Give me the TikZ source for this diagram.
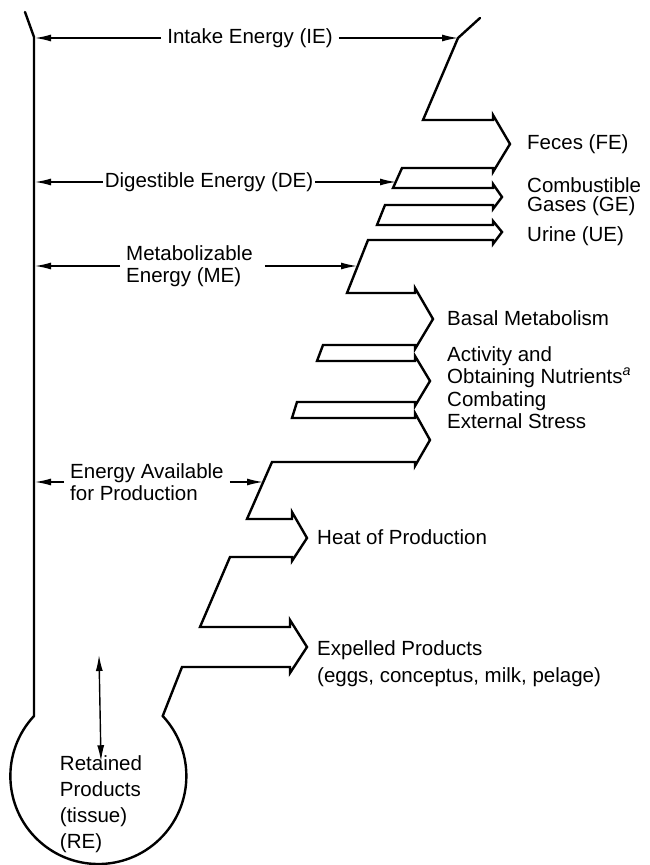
\documentclass[tikz,border=0pt]{standalone}
\usepackage{fontspec}
\setmainfont{Liberation Sans}
\usepackage{tikz}
\usetikzlibrary{arrows.meta}
\tikzset{
  wall/.style={line width=2.4pt, line join=miter, line cap=round},
  lbl/.style={-{Latex[length=16pt,width=7pt]}, line width=1.4pt},
  dbl/.style={{Latex[length=16pt,width=7pt]}-{Latex[length=16pt,width=7pt]}, line width=1.4pt},
  txt/.style={inner sep=6pt, align=left, font=\fontsize{20.5}{22}\selectfont},
  outl/.style={txt, inner sep=0pt, anchor=west}
}

\begin{document}
\begin{tikzpicture}[x=1pt,y=-1pt]
  \useasboundingbox (0,0) rectangle (650,865);
  \draw[wall] (25,12) -- (34,37) -- (34,716)
    arc[start angle=223, end angle=-43, radius=88]
    -- (182,667) -- (290,667) -- (290,673) -- (307,647) -- (290,620) -- (290,627)
    -- (200,627) -- (230,557) -- (292,557) -- (292,561) -- (307,538) -- (292,512) -- (292,519)
    -- (247,519) -- (272,462) -- (415,462) -- (415,466) -- (430,440) -- (415,413) -- (415,418)
    -- (292,418) -- (297,402) -- (415,402) -- (415,406) -- (430,381) -- (415,356) -- (415,361)
    -- (317,361) -- (323,345) -- (415,345) -- (415,349) -- (433,319) -- (415,288) -- (415,293)
    -- (347,293) -- (368,240) -- (493,240) -- (493,244) -- (502,232) -- (493,221) -- (493,225)
    -- (377,225) -- (385,205) -- (493,205) -- (493,209) -- (502,197) -- (493,184) -- (493,188)
    -- (393,188) -- (402,168) -- (493,168) -- (493,172) -- (510,144) -- (493,115) -- (493,120)
    -- (423,120) -- (458,38) -- (480,18);

  \coordinate (ieL) at (35,38);
  \coordinate (ieR) at (458,38);
  \coordinate (deL) at (35,182);
  \coordinate (deR) at (396,182);
  \coordinate (meL) at (35,266);
  \coordinate (meR) at (357,266);
  \coordinate (eapL) at (35,482);
  \coordinate (eapR) at (263,482);
  \coordinate (reTop) at (99,655);

  \node[txt] (ie) at (250,38) {Intake Energy (IE)};
  \node[txt, inner sep=2pt] (de) at (209,182) {Digestible Energy (DE)};
  \node[txt, anchor=west] (me) at (120,266) {Metabolizable\\Energy (ME)};
  \node[txt, anchor=west] (eap) at (64,482) {Energy Available\\for Production};
  \node[txt, inner sep=0pt, font=\fontsize{20.5}{26}\selectfont] (re) at (101,804)
    {Retained\\Products\\(tissue)\\(RE)};

  \draw[lbl] (ie) -- (ieL);
  \draw[lbl] (ie) -- (ieR);
  \draw[lbl] (de) -- (deL);
  \draw[lbl] (de) -- (deR);
  \draw[lbl] (me.west) -- (meL);
  \draw[lbl] ([xshift=6pt]me.east |- meR) -- (meR);
  \draw[lbl] (eap.west) -- (eapL);
  \draw[lbl] (eap.east |- eapR) -- (eapR);
  \draw[dbl] ([yshift=-6pt]re.north) -- (reTop);

  \node[outl] (fe) at (527,144) {Feces (FE)};
  \node[outl, font=\fontsize{20.5}{19}\selectfont] (ge) at (527,197) {Combustible\\Gases (GE)};
  \node[outl] (ue) at (527,236) {Urine (UE)};
  \node[outl] (bm) at (447,318) {Basal Metabolism};
  \node[outl] (act) at (447,367) {Activity and\\Obtaining Nutrients\textsuperscript{\itshape a}};
  \node[outl] (ces) at (447,410) {Combating\\External Stress};
  \node[outl] (hp) at (317,537) {Heat of Production};
  \node[outl, font=\fontsize{20.5}{27}\selectfont] (ep) at (317,664)
    {Expelled Products\\(eggs, conceptus, milk, pelage)};
\end{tikzpicture}
\end{document}
